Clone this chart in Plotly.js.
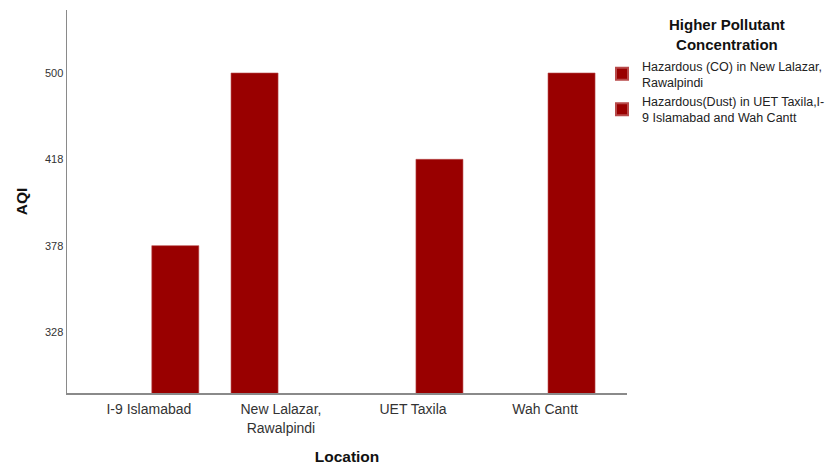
<!DOCTYPE html>
<html>
<head>
<meta charset="utf-8">
<script src="https://cdn.plot.ly/plotly-3.0.1.min.js"></script>
<style>html,body{margin:0;padding:0;background:#fff;}#chart{width:832px;height:468px;}</style>
</head>
<body>
<div id="chart"></div>
<script>
// Categories (x axis)
const locations = ['I-9 Islamabad', 'New Lalazar,<br>Rawalpindi', 'UET Taxila', 'Wah Cantt'];
// AQI tick labels (ordinal axis as in the source)
const aqiTicks = [328, 378, 418, 500];
// Series 1: Hazardous (CO)
const coLocations = ['New Lalazar,<br>Rawalpindi'];
const coAQI = [500];
// Series 2: Hazardous (Dust)
const dustLocations = ['I-9 Islamabad', 'UET Taxila', 'Wah Cantt'];
const dustAQI = [378, 418, 500];

const rank = v => aqiTicks.indexOf(v) + 1;
const barColor = '#990000';
const bw = 0.356;
const gap = 0.022;

const traces = [
  {
    type: 'bar', name: 'Hazardous (CO) in New Lalazar,<br>Rawalpindi',
    x: coLocations, y: coAQI.map(rank),
    customdata: coAQI,
    width: bw, offset: -bw - gap,
    marker: {color: barColor, line: {color: '#b84a4a', width: 0.6}}
  },
  {
    type: 'bar', name: 'Hazardous(Dust) in UET Taxila,I-<br>9 Islamabad and Wah Cantt',
    x: dustLocations, y: dustAQI.map(rank),
    customdata: dustAQI,
    width: bw, offset: gap,
    marker: {color: barColor, line: {color: '#b84a4a', width: 0.6}}
  }
];

const layout = {
  width: 832, height: 468,
  margin: {l: 67, r: 205, t: 10, b: 75, autoexpand: false},
  paper_bgcolor: '#fff', plot_bgcolor: '#fff',
  font: {family: '"Liberation Sans", Arial, sans-serif', color: '#222'},
  barmode: 'overlay',
  showlegend: true,
  xaxis: {
    type: 'category', categoryorder: 'array', categoryarray: locations,
    range: [-0.62, 3.62],
    showline: true, linecolor: '#8a8a8a', linewidth: 1.5,
    showgrid: false, zeroline: false, ticks: '',
    ticklabelstandoff: 3,
    tickfont: {size: 14, color: '#333'},
    title: {text: '<b>Location</b>', font: {size: 15.5, color: '#111'}, standoff: 16}
  },
  yaxis: {
    range: [0.293, 4.73],
    tickvals: aqiTicks.map(rank), ticktext: aqiTicks.map(String),
    showline: true, linecolor: '#8a8a8a', linewidth: 1.5,
    showgrid: false, zeroline: false, ticks: '',
    tickfont: {size: 11, color: '#333'},
    title: {text: '<b>AQI</b>', font: {size: 15.5, color: '#111'}, standoff: 13}
  },
  annotations: [{
    xref: 'paper', yref: 'paper', x: (727 - 67) / 560, y: 1 - (14 - 10) / 383,
    xanchor: 'center', yanchor: 'top', showarrow: false, align: 'center',
    text: '<b>Higher Pollutant<br>Concentration</b>', font: {size: 15, color: '#111'}
  }],
  legend: {
    x: 1 - 25 / 560, xanchor: 'left', y: 1 - (51 - 10) / 383, yanchor: 'top',
    font: {size: 12.5, color: '#222'},
    tracegroupgap: 0, itemsizing: 'constant',
    bgcolor: 'rgba(0,0,0,0)'
  }
};

Plotly.newPlot('chart', traces, layout, {displayModeBar: false, staticPlot: true});
</script>
</body>
</html>
